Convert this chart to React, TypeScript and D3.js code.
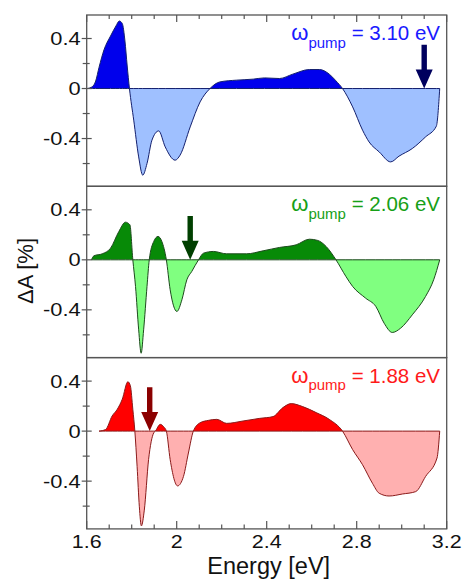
import React from 'react';
import * as d3 from 'd3';

const WIDTH = 464;
const HEIGHT = 580;
const PLOT = { left: 86.7, right: 446.7, top: 15, panelH: 171.3 };

const X_DOMAIN = [1.6, 3.2];
const Y_DOMAIN = [-0.782, 0.588];
const X_MAJOR = [1.6, 2.0, 2.4, 2.8, 3.2];
const X_MINOR = [1.7, 1.8, 1.9, 2.1, 2.2, 2.3, 2.5, 2.6, 2.7, 2.9, 3.0, 3.1];
const Y_MAJOR = [0.4, 0, -0.4];
const Y_MINOR = [0.2, -0.2, -0.6];

const PUMP_ENERGIES = [3.1, 2.06, 1.88];
const PUMP_LABELS = ['3.10', '2.06', '1.88'];
const ARROW_TOP = 0.35;

const pump310Energy = [1.603, 1.625, 1.64, 1.655, 1.677, 1.706, 1.73, 1.745, 1.758, 1.77, 1.78, 1.79,
  1.809, 1.831, 1.849, 1.868, 1.89, 1.92, 1.949, 1.993, 2.015, 2.06, 2.104, 2.148,
  2.192, 2.266, 2.34, 2.39, 2.457, 2.516, 2.59, 2.634, 2.678, 2.708, 2.737,
  2.782, 2.826, 2.855, 2.9, 2.951, 2.988, 3.047, 3.106, 3.154, 3.169];
const pump310Delta = [0, 0.015, 0.06, 0.17, 0.31, 0.42, 0.5, 0.54, 0.52, 0.38, 0.18, 0,
  -0.253, -0.547, -0.693, -0.6, -0.413, -0.339, -0.467, -0.573, -0.533, -0.307, -0.107, 0,
  0.053, 0.067, 0.075, 0.085, 0.08, 0.115, 0.152, 0.152, 0.115, 0.061, 0,
  -0.147, -0.333, -0.427, -0.507, -0.587, -0.541, -0.48, -0.387, -0.301, 0];

const pump206Energy = [1.621, 1.632, 1.669, 1.706, 1.743, 1.772, 1.792, 1.805,
  1.817, 1.831, 1.842, 1.853, 1.868, 1.878, 1.898, 1.917, 1.934, 1.954,
  1.971, 2.001, 2.023, 2.045, 2.067, 2.097, 2.119, 2.163, 2.222, 2.31, 2.384, 2.457,
  2.531, 2.59, 2.627, 2.664, 2.708, 2.752, 2.782, 2.84, 2.885, 2.922, 2.958, 2.995,
  3.047, 3.106, 3.142, 3.169];
const pump206Delta = [0, 0.032, 0.048, 0.093, 0.227, 0.301, 0.28, 0,
  -0.213, -0.56, -0.747, -0.56, -0.213, 0, 0.147, 0.187, 0.147, 0,
  -0.24, -0.413, -0.32, -0.16, -0.093, 0, 0.053, 0.067, 0.048, 0.048, 0.072, 0.099,
  0.12, 0.165, 0.155, 0.107, 0, -0.133, -0.213, -0.307, -0.373, -0.507, -0.581, -0.547,
  -0.44, -0.293, -0.16, 0];

const pump188Energy = [1.655, 1.684, 1.713, 1.736, 1.758, 1.783, 1.794, 1.805, 1.814,
  1.824, 1.834, 1.843, 1.856, 1.875, 1.898, 1.905, 1.927, 1.942, 1.954,
  1.971, 2.004, 2.03, 2.052, 2.074, 2.104, 2.141, 2.178, 2.222, 2.295, 2.369, 2.428,
  2.472, 2.509, 2.56, 2.62, 2.678, 2.737, 2.782, 2.826, 2.87, 2.9, 2.944, 3.003,
  3.062, 3.106, 3.157, 3.169];
const pump188Delta = [0, 0.013, 0.121, 0.175, 0.255, 0.395, 0.363, 0.175, 0,
  -0.282, -0.605, -0.758, -0.632, -0.228, -0.013, 0, 0.054, 0.035, 0,
  -0.228, -0.438, -0.363, -0.175, 0, 0.067, 0.086, 0.094, 0.062, 0.081, 0.102, 0.116,
  0.188, 0.22, 0.196, 0.148, 0.094, 0, -0.148, -0.269, -0.417, -0.497, -0.519, -0.503,
  -0.484, -0.363, -0.215, 0];

const PANELS = [
  { energy: pump310Energy, delta: pump310Delta, pos: '#0000ec', neg: '#9fc0ff', line: '#14206e', text: '#1a1aff', arrow: '#00005e' },
  { energy: pump206Energy, delta: pump206Delta, pos: '#078a07', neg: '#80ff80', line: '#1d4a1d', text: '#17a017', arrow: '#004000' },
  { energy: pump188Energy, delta: pump188Delta, pos: '#ff0000', neg: '#ffb0b0', line: '#8a1a1a', text: '#ff1a1a', arrow: '#8b0000' },
];

const FONT = '"Liberation Sans", Arial, Helvetica, sans-serif';
const FRAME = '#555';

const x = d3.scaleLinear().domain(X_DOMAIN).range([PLOT.left, PLOT.right]);

function Panel({ idx }: { idx: number }) {
  const p = PANELS[idx];
  const top = PLOT.top + idx * PLOT.panelH;
  const bottom = top + PLOT.panelH;
  const y = d3.scaleLinear().domain(Y_DOMAIN).range([bottom, top]);
  const pts = p.energy.map((e, i) => [e, p.delta[i]] as [number, number]);
  const area = d3
    .area<[number, number]>()
    .x((d) => x(d[0]))
    .y0(y(0))
    .y1((d) => y(d[1]))
    .curve(d3.curveMonotoneX);
  const d = area(pts) ?? '';
  const y0 = y(0);

  // arrow pointing down to the zero line at the pump energy
  const ax = x(PUMP_ENERGIES[idx]);
  const aTop = y(ARROW_TOP);
  const shaft = 2.7;
  const head = 8.5;
  const headLen = 19;
  const arrow = d3.path();
  arrow.moveTo(ax - shaft, aTop);
  arrow.lineTo(ax + shaft, aTop);
  arrow.lineTo(ax + shaft, y0 - headLen);
  arrow.lineTo(ax + head, y0 - headLen);
  arrow.lineTo(ax, y0);
  arrow.lineTo(ax - head, y0 - headLen);
  arrow.lineTo(ax - shaft, y0 - headLen);
  arrow.closePath();

  return (
    <g>
      <defs>
        <clipPath id={`pos-${idx}`}>
          <rect x={PLOT.left} y={top} width={PLOT.right - PLOT.left} height={y0 - top} />
        </clipPath>
        <clipPath id={`neg-${idx}`}>
          <rect x={PLOT.left} y={y0} width={PLOT.right - PLOT.left} height={bottom - y0} />
        </clipPath>
      </defs>
      <path d={d} fill={p.pos} clipPath={`url(#pos-${idx})`} />
      <path d={d} fill={p.neg} clipPath={`url(#neg-${idx})`} />
      <path d={d} fill="none" stroke={p.line} strokeWidth={1} strokeLinejoin="round" />
      <path d={arrow.toString()} fill={p.arrow} />
      <text x={440} y={top + 25} textAnchor="end" fill={p.text} fontFamily={FONT} fontSize={20.5}>
        <tspan fontSize={22}>ω</tspan>
        <tspan dy={7.5} fontSize={15}>pump</tspan>
        <tspan dy={-7.5}>{` = ${PUMP_LABELS[idx]} eV`}</tspan>
      </text>
      <rect x={PLOT.left} y={top} width={PLOT.right - PLOT.left} height={PLOT.panelH} fill="none" stroke={FRAME} strokeWidth={1.3} />
      {Y_MAJOR.map((v) => (
        <g key={`ym-${v}`}>
          <line x1={PLOT.left - 5} x2={PLOT.left + 5} y1={y(v)} y2={y(v)} stroke={FRAME} strokeWidth={1.2} />
          <text
            transform={`translate(${PLOT.left - 6},${y(v) + 6.6}) scale(1.18,1)`}
            textAnchor="end"
            fontFamily={FONT}
            fontSize={18.5}
            fill="#111"
          >
            {v === 0 ? '0' : d3.format('.1f')(v).replace('−', '-')}
          </text>
        </g>
      ))}
      {Y_MINOR.map((v) => (
        <line key={`yn-${v}`} x1={PLOT.left - 4} x2={PLOT.left + 3} y1={y(v)} y2={y(v)} stroke={FRAME} strokeWidth={1.2} />
      ))}
      {idx === 0 &&
        X_MAJOR.concat(X_MINOR).map((e) => (
          <line key={`xt-${e}`} x1={x(e)} x2={x(e)} y1={top} y2={top + (X_MAJOR.includes(e) ? 7 : 4)} stroke={FRAME} strokeWidth={1.2} />
        ))}
      {idx === PANELS.length - 1 &&
        X_MAJOR.concat(X_MINOR).map((e) => (
          <line key={`xb-${e}`} x1={x(e)} x2={x(e)} y1={bottom} y2={bottom - (X_MAJOR.includes(e) ? 8 : 4.5)} stroke={FRAME} strokeWidth={1.2} />
        ))}
    </g>
  );
}

export default function App() {
  const bottom = PLOT.top + PANELS.length * PLOT.panelH;
  return (
    <svg
      width={WIDTH}
      height={HEIGHT}
      viewBox={`0 0 ${WIDTH} ${HEIGHT}`}
      style={{ position: 'absolute', left: 0, top: 0, background: '#fff' }}
    >
      <rect width={WIDTH} height={HEIGHT} fill="#fff" />
      {PANELS.map((_, i) => (
        <Panel key={i} idx={i} />
      ))}
      {X_MAJOR.map((e) => (
        <text
          key={`xl-${e}`}
          transform={`translate(${x(e)},${bottom + 19}) scale(1.16,1)`}
          textAnchor="middle"
          fontFamily={FONT}
          fontSize={18.5}
          fill="#111"
        >
          {e === 2 ? '2' : d3.format('.1f')(e)}
        </text>
      ))}
      <text x={(PLOT.left + PLOT.right) / 2 + 2} y={574} textAnchor="middle" fontFamily={FONT} fontSize={23.5} fill="#111">
        Energy [eV]
      </text>
      <text
        transform={`translate(33,271) rotate(-90)`}
        textAnchor="middle"
        fontFamily={FONT}
        fontSize={22}
        fill="#111"
      >
        ΔA [%]
      </text>
    </svg>
  );
}
